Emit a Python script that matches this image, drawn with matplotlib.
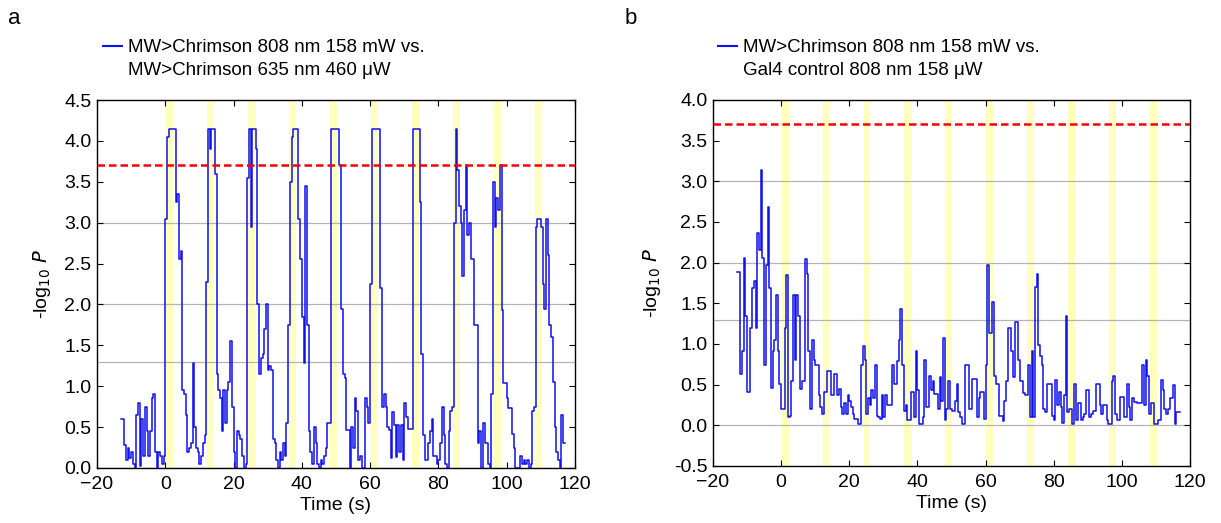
import numpy as np
import matplotlib
matplotlib.use("Agg")
import matplotlib.pyplot as plt
from matplotlib.lines import Line2D

plt.rcParams['font.family'] = ['Liberation Sans', 'DejaVu Sans']

# -log10 P, sampled every 0.5 s starting at t = -13 s
t_start = -13.0
t_step = 0.5

logp_a = [
    # pre-stimulus
    0.6, 0.6, 0.28, 0.1, 0.24, 0.12, 0.2, 0.05, 0.0, 0.65, 0.8, 0.02, 0.6,
    0.15, 0.75, 0.45, 0.15, 0.45, 0.85, 0.9, 0.2, 0.0, 0.2, 0.15, 0.05, 0.15,
    # 0 s
    3.05, 4.05, 4.15, 4.15, 4.15, 4.15, 3.25, 3.35, 2.55, 2.65, 0.95, 0.9,
    0.65, 0.2, 0.25, 0.3, 1.28, 0.5, 0.25, 0.2, 0.05, 0.15, 0.3, 0.4,
    # 12 s
    2.28, 4.15, 3.9, 4.15, 4.15, 3.6, 1.15, 0.95, 0.85, 0.45, 0.95, 0.55,
    0.95, 1.05, 1.55, 0.75, 0.2, 0.0, 0.45, 0.4, 0.35, 0.15, 0.0, 0.05,
    # 24 s
    3.55, 4.15, 2.95, 4.15, 4.15, 3.9, 2.0, 1.15, 1.35, 1.4, 1.7, 2.0,
    1.2, 1.25, 1.2, 0.35, 0.3, 0.1, 0.0, 0.2, 0.1, 0.3, 0.15, 0.55,
    # 36 s
    1.75, 3.5, 4.05, 4.15, 4.15, 4.15, 3.05, 2.55, 1.85, 1.28, 3.45, 1.75,
    0.45, 0.2, 0.05, 0.5, 0.3, 0.05, 0.0, 0.1, 0.05, 0.15, 0.25, 0.55,
    # 48 s
    0.55, 4.15, 4.15, 4.15, 4.15, 4.15, 3.7, 1.95, 1.15, 1.1, 0.46, 0.46,
    0.0, 0.5, 0.25, 0.86, 0.7, 0.1, 0.15, 0.0, 0.0, 0.86, 0.75, 0.55,
    # 60 s
    2.25, 4.15, 4.15, 4.15, 4.15, 4.15, 2.2, 0.75, 0.9, 0.75, 0.5, 0.46,
    0.12, 0.68, 0.53, 0.13, 0.53, 0.2, 0.53, 0.1, 0.8, 0.62, 0.48, 0.48,
    # 72 s
    0.48, 4.15, 4.15, 4.15, 4.15, 3.25, 1.4, 0.4, 0.1, 0.1, 0.3, 0.45,
    0.6, 0.15, 0.15, 0.05, 0.1, 0.3, 0.75, 0.4, 0.05, 0.0, 0.45, 0.7,
    # 84 s
    0.75, 3.0, 4.15, 3.65, 3.2, 3.0, 2.35, 3.15, 3.7, 2.85, 3.0, 2.55,
    2.55, 1.75, 1.75, 0.3, 0.45, 0.0, 0.55, 0.3, 0.3, 0.05, 0.0, 0.9,
    # 96 s
    3.5, 2.95, 3.3, 3.15, 3.7, 1.93, 1.04, 1.04, 0.85, 0.73, 0.73, 0.42,
    0.24, 0.0, 0.0, 0.0, 0.15, 0.05, 0.1, 0.05, 0.1, 0.0, 0.05, 0.7,
    # 108 s
    0.75, 2.95, 3.05, 3.05, 2.95, 2.25, 1.95, 3.05, 2.6, 1.75, 1.6, 1.05,
    0.5, 0.2, 0.1, 0.0, 0.65, 0.3, 0.3,
]

logp_b = [
    # pre-stimulus
    1.88, 1.88, 0.63, 0.91, 2.06, 1.35, 0.41, 0.41, 1.2, 1.69, 1.77, 1.2, 2.36,
    2.15, 3.14, 2.06, 0.74, 1.97, 2.68, 1.69, 0.46, 0.92, 1.05, 1.6, 0.92, 0.51,
    # 0 s
    0.2, 0.2, 1.2, 1.85, 0.1, 0.12, 0.55, 1.6, 0.8, 1.6, 1.35, 0.45,
    0.55, 0.55, 2.05, 1.86, 0.92, 0.2, 1.05, 0.8, 0.74, 0.74, 0.37, 0.22,
    # 12 s
    0.14, 0.41, 0.41, 0.67, 0.67, 0.37, 0.37, 0.63, 0.63, 0.37, 0.45, 0.22,
    0.14, 0.27, 0.14, 0.37, 0.3, 0.22, 0.14, 0.08, 0.08, 0.02, 0.02, 0.74,
    # 24 s
    0.98, 0.8, 0.14, 0.33, 0.25, 0.43, 0.33, 0.74, 0.12, 0.1, 0.08, 0.37,
    0.1, 0.37, 0.25, 0.25, 0.25, 0.74, 0.51, 0.51, 0.79, 1.05, 1.43, 0.74,
    # 36 s
    0.18, 0.25, 0.06, 0.06, 0.41, 0.41, 0.1, 0.92, 0.43, 0.02, 0.02, 0.1,
    0.8, 0.22, 0.22, 0.61, 0.43, 0.55, 0.39, 0.39, 0.2, 0.6, 0.3, 1.07,
    # 48 s
    0.06, 0.2, 0.55, 0.2, 0.18, 0.18, 0.3, 0.51, 0.16, 0.1, 0.02, 0.02,
    0.74, 0.74, 0.2, 0.2, 0.57, 0.57, 0.57, 0.1, 0.33, 0.41, 0.41, 0.08,
    # 60 s
    0.74, 1.97, 1.13, 1.13, 1.52, 0.61, 0.51, 0.51, 0.12, 0.12, 0.05, 0.3,
    0.55, 1.2, 1.2, 0.92, 0.6, 1.27, 1.27, 0.8, 0.55, 0.55, 0.4, 0.37,
    # 72 s
    0.37, 0.74, 0.1, 0.92, 0.1, 1.7, 1.86, 0.99, 0.85, 0.74, 0.2, 0.16,
    0.51, 0.51, 0.51, 0.12, 0.06, 0.56, 0.25, 0.41, 0.22, 0.03, 0.37, 1.35,
    # 84 s
    0.16, 0.2, 0.2, 0.02, 0.51, 0.06, 0.27, 0.27, 0.06, 0.1, 0.14, 0.43,
    0.43, 0.1, 0.14, 0.18, 0.18, 0.51, 0.51, 0.25, 0.14, 0.25, 0.25, 0.06,
    # 96 s
    0.02, 0.02, 0.55, 0.61, 0.14, 0.06, 0.06, 0.35, 0.35, 0.1, 0.1, 0.51,
    0.22, 0.06, 0.33, 0.29, 0.29, 0.27, 0.27, 0.27, 0.74, 0.25, 0.8, 0.61,
    # 108 s
    0.14, 0.27, 0.27, 0.02, 0.02, 0.06, 0.06, 0.56, 0.43, 0.2, 0.14, 0.2,
    0.33, 0.33, 0.49, 0.02, 0.16, 0.16, 0.16,
]

stim_onsets = [0.2, 12.2, 24.2, 36.2, 48.2, 60.2, 72.2, 84.2, 96.2, 108.2]
stim_dur = 2.0
threshold = 3.7
ref_lines = [0.0, 1.3, 2.0, 3.0]

legend_a = "MW>Chrimson 808 nm 158 mW vs.\nMW>Chrimson 635 nm 460 \u03bcW"
legend_b = "MW>Chrimson 808 nm 158 mW vs.\nGal4 control 808 nm 158 \u03bcW"

W, H = 1221, 523
fig = plt.figure(figsize=(W / 100, H / 100), dpi=100)


def px_axes(l, t, r, b):
    return fig.add_axes([l / W, 1 - b / H, (r - l) / W, (b - t) / H])


def draw_panel(ax, vals, ylim, yticks):
    t = t_start + t_step * np.arange(len(vals))
    for s in stim_onsets:
        ax.axvspan(s, s + stim_dur, color='#ffffbe', lw=0, zorder=0)
    for y in ref_lines:
        ax.axhline(y, color='#b4b4b4', lw=0.9, zorder=1)
    ax.step(t, vals, where='post', color='#1010ee', lw=1.1, zorder=3)
    ax.axhline(threshold, color='red', lw=1.8, ls=(0, (3, 1.6)), zorder=4)
    ax.set_xlim(-20, 120)
    ax.set_ylim(*ylim)
    ax.set_xticks(np.arange(-20, 121, 20))
    ax.set_yticks(yticks)
    ax.set_yticklabels([f"{v:.1f}" for v in yticks])
    ax.tick_params(direction='in', top=True, right=True, labelsize=14,
                   length=4, width=0.8)
    ax.tick_params(axis='y', pad=4)
    ax.tick_params(axis='x', pad=6)
    for sp in ax.spines.values():
        sp.set_linewidth(1.0)
    ax.set_xlabel("Time (s)", fontsize=14, labelpad=3)
    ax.set_ylabel("-log$_{10}$ $P$", fontsize=14, labelpad=8)


ax_a = px_axes(97, 100, 575, 468)
draw_panel(ax_a, logp_a, (0, 4.5), np.arange(0, 4.51, 0.5))

ax_b = px_axes(713, 100, 1190, 466)
draw_panel(ax_b, logp_b, (-0.5, 4.0), np.arange(-0.5, 4.01, 0.5))

fig.text(8 / W, 1 - 18 / H, "a", fontsize=16, va='center', ha='left')
fig.text(625 / W, 1 - 18 / H, "b", fontsize=16, va='center', ha='left')

for x0, txt in [(103, legend_a), (718, legend_b)]:
    fig.add_artist(Line2D([x0 / W, (x0 + 19) / W], [1 - 46 / H, 1 - 46 / H],
                          color='#1010ee', lw=1.5))
    fig.text((x0 + 25) / W, 1 - 59 / H, txt, fontsize=13.5, va='center',
             ha='left', linespacing=1.45)

fig.savefig("out.png", dpi=100)
